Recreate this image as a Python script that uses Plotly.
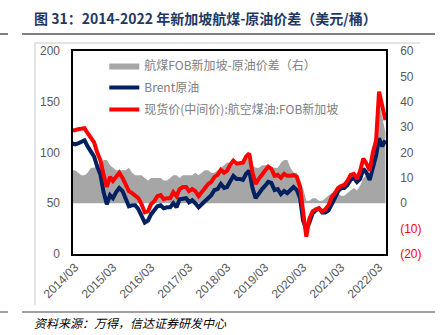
import pandas as pd
import plotly.graph_objects as go

dates = pd.date_range("2014-02-01", "2022-05-01", freq="MS")

brent = [109, 108, 109, 110, 112, 106, 101, 96, 86, 78, 61,
         49, 58, 55, 61, 65, 62, 55, 47, 48, 48, 44, 37,
         31, 33, 39, 43, 47, 48, 45, 46, 46, 50, 46, 54,
         55, 55, 51, 53, 50, 46, 49, 52, 56, 58, 63, 64,
         69, 65, 66, 72, 77, 74, 74, 73, 79, 82, 65, 55,
         60, 64, 67, 71, 70, 63, 64, 59, 62, 60, 63, 66,
         63, 55, 33, 24, 31, 40, 43, 45, 41, 41, 43, 50,
         55, 62, 65, 65, 68, 73, 75, 71, 74, 84, 80, 73,
         86, 97, 114, 106, 112]

jet = [122, 122, 123, 124, 124, 119, 115, 110, 100, 92, 78,
       66, 76, 72, 76, 80, 75, 69, 62, 60, 58, 55, 49,
       41, 42, 49, 52, 57, 58, 54, 55, 55, 61, 57, 64,
       66, 66, 62, 64, 62, 57, 61, 65, 69, 71, 76, 78,
       83, 80, 82, 88, 92, 89, 90, 90, 96, 99, 80, 69,
       74, 79, 82, 86, 84, 77, 78, 75, 79, 77, 77, 78,
       76, 66, 45, 17, 35, 42, 44, 45, 42, 44, 48, 56,
       60, 65, 67, 68, 72, 78, 79, 74, 82, 94, 89, 82,
       100, 112, 160, 145, 132]

spread = [13, 13, 12, 11, 11, 12, 14, 14, 15, 15, 17,
          17, 15, 14, 13, 13, 13, 13, 14, 12, 11, 11, 11,
          10, 9, 10, 10, 10, 10, 9, 9, 10, 11, 11, 10,
          11, 11, 11, 11, 12, 11, 12, 13, 13, 12, 12, 13,
          14, 15, 16, 16, 15, 15, 16, 17, 18, 17, 15, 14,
          14, 15, 15, 15, 14, 14, 14, 16, 17, 17, 14, 12,
          12, 9, 6, 1, 1, 2, 2, 1, 1, 2, 3, 4,
          4, 4, 3, 3, 4, 5, 6, 5, 7, 10, 11, 10,
          13, 16, 40, 34, 28]

names = ["航煤FOB新加坡-原油价差（右）", "Brent原油", "现货价(中间价):航空煤油:FOB新加坡"]
left_ticks = [0, 50, 100, 150, 200]
right_ticks = [-20, -10, 0, 10, 20, 30, 40, 50, 60]
right_labels = ['<span style="color:#FF0000">(20)</span>', '<span style="color:#FF0000">(10)</span>',
                "0", "10", "20", "30", "40", "50", "60"]

FONT = "Liberation Sans, Noto Sans CJK SC, sans-serif"
CJK = "Noto Sans CJK SC, sans-serif"

fig = go.Figure()
# spread on base (right) axis so that the lines on the overlaying axis draw above it
fig.add_trace(go.Scatter(x=dates, y=spread, name=names[0], yaxis="y", mode="lines",
                         fill="tozeroy", fillcolor="#A6A6A6", line=dict(width=0, color="#A6A6A6"),
                         legendgroup="a"))
fig.add_trace(go.Scatter(x=dates, y=brent, name=names[1], yaxis="y2", mode="lines",
                         line=dict(color="#002060", width=4), legendgroup="b"))
fig.add_trace(go.Scatter(x=dates, y=jet, name=names[2], yaxis="y2", mode="lines",
                         line=dict(color="#FF0000", width=4), legendgroup="c"))

fig.update_layout(
    width=440, height=335,
    margin=dict(l=73, r=54, t=51, b=81),
    paper_bgcolor="white", plot_bgcolor="white",
    font=dict(family=FONT, size=12, color="#595959"),
    showlegend=True,
    legend=dict(x=0.1, y=1.0, xanchor="left", yanchor="top", bgcolor="rgba(0,0,0,0)",
                font=dict(family=CJK, size=12, color="#808080"), tracegroupgap=3,
                itemwidth=30),
    xaxis=dict(type="date", range=["2014-02-10", "2022-05-07"], tick0="2014-03-01", dtick="M12",
               tickformat="%Y/%m", tickangle=-45, showgrid=False, zeroline=False,
               showline=True, linecolor="black", linewidth=1.5, mirror=True, ticks="",
               tickfont=dict(size=12, color="#595959")),
    yaxis=dict(range=[-20, 60], tickvals=right_ticks, ticktext=right_labels,
               side="right", showgrid=False, zeroline=False, showline=True, linecolor="black",
               linewidth=1.5, mirror=True, ticks="", ticklabelstandoff=10),
    yaxis2=dict(range=[0, 200], tickvals=left_ticks, overlaying="y", side="left",
                showgrid=False, zeroline=False, showline=False, ticks="",
                ticklabelstandoff=12),
)

fig.add_annotation(text="<b>图 31：2014-2022 年新加坡航煤-原油价差（美元/桶）</b>",
                   xref="paper", yref="paper", x=-0.131, y=1.163, xanchor="left", yanchor="middle",
                   showarrow=False, font=dict(family=CJK, size=14, color="#1F3864"))
fig.add_annotation(text="<i>资料来源：万得，信达证券研发中心</i>",
                   xref="paper", yref="paper", x=-0.13, y=-0.335, xanchor="left", yanchor="middle",
                   showarrow=False, font=dict(family=CJK, size=12, color="#000000"))

# page decoration lines (pixel -> paper)
def px(x):
    return (x - 73) / 313
def py(y):
    return (254 - y) / 203

fig.add_shape(type="line", xref="paper", yref="paper", x0=px(22), x1=px(435), y0=py(34), y1=py(34),
              line=dict(color="#000000", width=1))
fig.add_shape(type="line", xref="paper", yref="paper", x0=px(0), x1=px(8), y0=py(34), y1=py(34),
              line=dict(color="#000000", width=1))
fig.add_shape(type="line", xref="paper", yref="paper", x0=px(35), x1=px(420), y0=py(43), y1=py(43),
              line=dict(color="#C8C8C8", width=1))
fig.add_shape(type="line", xref="paper", yref="paper", x0=px(35), x1=px(35), y0=py(43), y1=py(305),
              line=dict(color="#C8C8C8", width=1))
fig.add_shape(type="line", xref="paper", yref="paper", x0=px(22), x1=px(435), y0=py(312), y1=py(312),
              line=dict(color="#808080", width=1.5))
fig.add_shape(type="line", xref="paper", yref="paper", x0=px(0), x1=px(8), y0=py(312), y1=py(312),
              line=dict(color="#808080", width=1.5))

fig.write_html("out.html")
